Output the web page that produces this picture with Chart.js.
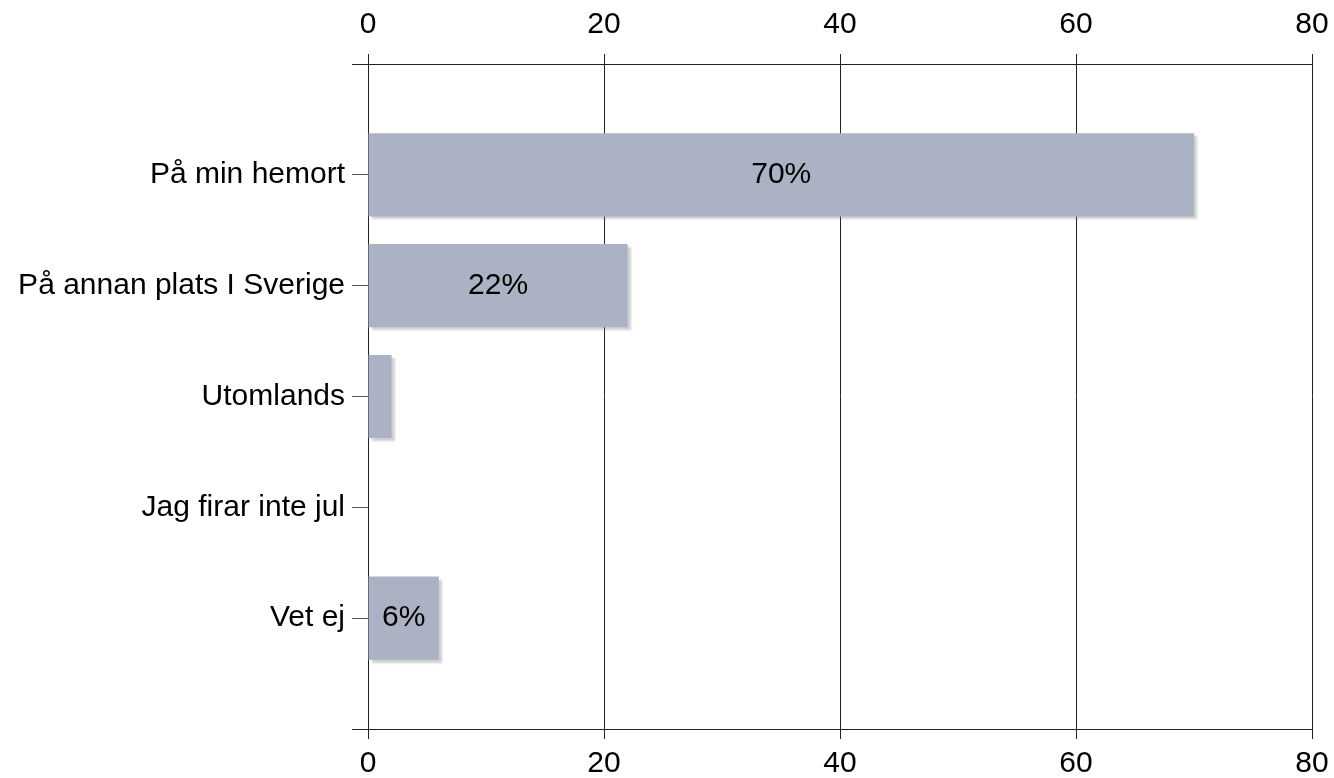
<!DOCTYPE html>
<html>
<head>
<meta charset="utf-8">
<script src="https://cdn.jsdelivr.net/npm/chart.js@4"></script>
<style>
  html, body { margin: 0; padding: 0; background: #fff; }
  #wrap { width: 1334px; height: 778px; }
</style>
</head>
<body>
<div id="wrap"><canvas id="chart"></canvas></div>
<script>
const categories = ["På min hemort", "På annan plats I Sverige", "Utomlands", "Jag firar inte jul", "Vet ej"];
const values = [70, 22, 2, 0, 6];
const xMin = 0;
const xMax = 80;
const xStep = 20;

const FONT = "'Liberation Sans', Arial, sans-serif";

// shadow under the bars, then the percent labels
const barExtras = {
  id: "barExtras",
  beforeDatasetsDraw(chart) {
    const ctx = chart.ctx;
    ctx.save();
    ctx.shadowColor = "rgba(120,120,120,0.35)";
    ctx.shadowOffsetX = 3;
    ctx.shadowOffsetY = 3;
    ctx.shadowBlur = 2;
  },
  afterDatasetsDraw(chart) {
    const ctx = chart.ctx;
    ctx.restore();
    ctx.save();
    ctx.font = "30px " + FONT;
    ctx.fillStyle = "#000";
    ctx.textAlign = "center";
    ctx.textBaseline = "middle";
    chart.getDatasetMeta(0).data.forEach((bar, i) => {
      if (values[i] >= 5) {
        ctx.fillText(values[i] + "%", (bar.x + bar.base) / 2, bar.y);
      }
    });
    ctx.restore();
  },
};

const isEdge = (c) => c.tick && (c.tick.value === -1 || c.tick.value === categories.length);

const fitX = (h) => (s) => {
  s.height = h;
  s.paddingLeft = 0;
  s.paddingRight = 0;
};

new Chart(document.getElementById("chart"), {
  type: "bar",
  data: {
    datasets: [
      {
        data: values.map((v, i) => ({ x: v, y: i })),
        backgroundColor: "#aab2c3",
        borderWidth: 0,
        barPercentage: 0.75,
        categoryPercentage: 1,
      },
    ],
  },
  plugins: [barExtras],
  options: {
    indexAxis: "y",
    responsive: true,
    maintainAspectRatio: false,
    animation: false,
    layout: { padding: { right: 22 } },
    scales: {
      x: {
        type: "linear",
        position: "top",
        min: xMin,
        max: xMax,
        ticks: {
          stepSize: xStep,
          color: "#000",
          padding: 11,
          maxRotation: 0,
          font: { size: 30, family: FONT },
        },
        grid: { color: "#222", tickColor: "#222", tickLength: 10 },
        border: { display: false },
        afterFit: fitX(64),
      },
      x2: {
        type: "linear",
        position: "bottom",
        min: xMin,
        max: xMax,
        ticks: {
          stepSize: xStep,
          color: "#000",
          padding: 7,
          maxRotation: 0,
          font: { size: 30, family: FONT },
        },
        grid: { drawOnChartArea: false, tickColor: "#222", tickLength: 10 },
        border: { display: false },
        afterFit: fitX(49),
      },
      y: {
        type: "linear",
        reverse: true,
        offset: false,
        min: -1,
        max: categories.length,
        ticks: {
          stepSize: 1,
          color: "#000",
          padding: 7,
          font: { size: 30, family: FONT },
          callback: (v) => categories[v] || "",
        },
        grid: {
          offset: false,
          tickLength: 16,
          color: (c) => (isEdge(c) ? "#222" : "rgba(0,0,0,0)"),
          tickColor: (c) => (isEdge(c) ? "#222" : "#555"),
        },
        border: { display: false },
        afterFit: (s) => { s.width = 368; },
      },
    },
    plugins: {
      legend: { display: false },
      tooltip: { enabled: false },
    },
  },
});
</script>
</body>
</html>
